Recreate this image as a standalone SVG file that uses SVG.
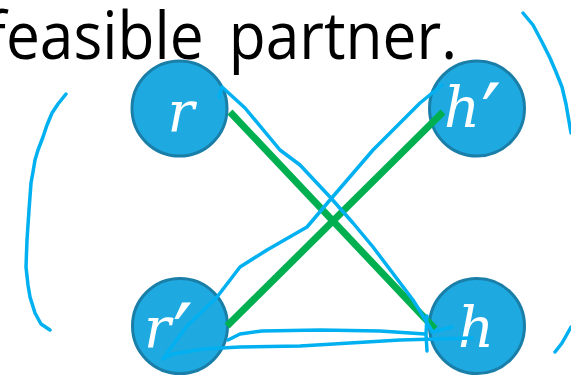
<svg xmlns="http://www.w3.org/2000/svg" width="571" height="376" viewBox="0 0 571 376">
<style>
.title{font-family:"Open Sans","Liberation Sans",sans-serif;font-size:65px;fill:#000}
.node circle{fill:#1FA9E1;stroke:#1A7FA8;stroke-width:3}
.node text{font-family:"DejaVu Serif","Liberation Serif",serif;font-style:italic;font-size:56px;fill:#fff}
.pr{font-family:"DejaVu Sans",sans-serif;font-style:normal;font-size:90px}
.green{stroke:#00B050;stroke-width:7;fill:none}
.ink{stroke:#00B0F0;stroke-width:3.5;fill:none;stroke-linecap:round;stroke-linejoin:round}
</style>
<text class="title" transform="scale(0.93,1)" x="-15.5" y="59">feasible<tspan dx="10"> partner.</tspan></text>
<g id="node-r" class="node"><circle cx="179.5" cy="108.5" r="47.5"/><text x="181" y="131" text-anchor="middle">r</text></g>
<g id="node-hp" class="node"><circle cx="477" cy="108.5" r="47.5"/><text x="444" y="127">h<tspan class="pr" dx="1" dy="22">′</tspan></text></g>
<g id="node-rp" class="node"><circle cx="180" cy="326" r="47.5"/><text x="144" y="347">r<tspan class="pr" dx="2" dy="22">′</tspan></text></g>
<g id="node-h" class="node"><circle cx="477" cy="326" r="47.5"/><text x="476" y="347" text-anchor="middle">h</text></g>
<g id="connectors">
<line class="green" x1="230" y1="112" x2="435" y2="329"/>
<line class="green" x1="443" y1="112" x2="227" y2="326"/>
<path class="ink" d="M219,97 L222,87 L245,108 L280,150 L300,165 L330,197 L353,223 L373,247 L413,300 L423,316 L432,331"/>
<path class="ink" d="M427,316 L426,334 L427,351"/>
<path class="ink" d="M442,85 L420,103 L373,150 L330,200 L307,227 L267,250 L240,267 L217,297 L187,326 L170,349 L163,359 L173,354 L203,349 L240,347 L300,346 L400,340 L472,338"/>
<path class="ink" d="M228,340 L240,334 L262,331 L320,330 L380,331 L425,334"/>
<path class="ink" d="M452,327 L440,330 L432,332"/>
<path class="ink" d="M66,94 L58,104 L52,113 L47,125 L43,137 L38,150 L35,160 L33,172 L31,183 L29,210 L27,240 L26,267 L28,285 L30,297 L35,313 L41,324 L50,330"/>
<path class="ink" d="M523,13 L533,25 L542,42 L550,58 L556,72 L562,87 L566,104 L571,133"/>
<path class="ink" d="M571,327 L566,336 L562,343 L555,352"/>
</g>
</svg>
